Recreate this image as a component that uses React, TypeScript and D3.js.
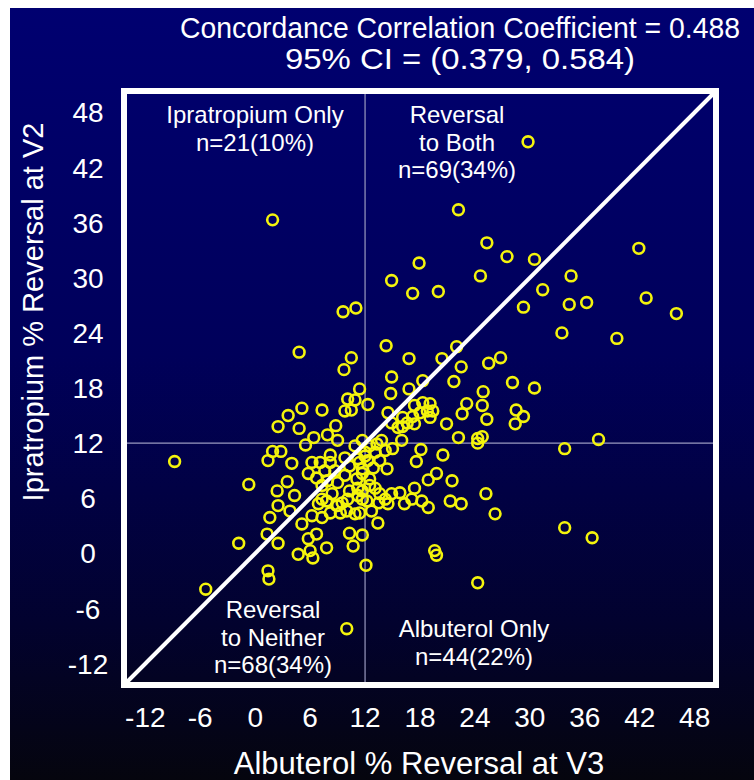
import React, { useEffect, useRef } from 'react';
import * as d3 from 'd3';

// Albuterol % reversal at V3 (x) and Ipratropium % reversal at V2 (y)
const albuterolV3 = [
  1.9, 9.6, 11.0, 4.8, 10.5, 9.7, 14.9, 17.9, 17.2, 14.3, 16.8, 14.9, 29.8, 22.2, 25.3, 27.5, 30.5, 24.6, 20.0, 41.9,
  34.5, 31.4, 29.3, 34.3, 36.2, 42.7, 46.0, 33.5, 39.5, 20.4, 22.0, 22.5, 25.5, 26.8, 28.1, 18.3, 21.7, 30.5, 24.9, 23.1,
  24.8, 22.6, 25.3, 28.5, 29.3, 28.4, 20.9, 22.2, 24.3, 24.8, 24.3, 33.8, 37.5, 18.1, 20.5, 17.6, 19.8, 18.9, 21.5, 17.4,
  15.8, 17.1, 18.2, 18.9, 21.3, 22.5, 25.2, 26.2, 33.8, 36.8, 19.6, 19.8, 24.3, -8.8, -0.7, -1.8, -5.4, 1.4, 1.5, 10.0,
  12.1, 5.1, 7.3, 3.6, 2.5, 4.8, 6.4, 7.9, 5.5, 1.9, 2.8, 1.4, 4.0, 6.2, 8.2, 8.2, 8.8, 11.4, 10.1, 10.9,
  12.3, 9.8, 10.5, 14.8, 16.8, 14.5, 17.4, 18.3, 19.1, 18.8, 19.4, 18.0, 19.1, 17.2, 16.1, 15.6, 16.6, 17.4, 9.0, 16.0,
  15.0, 9.8, 10.9, 11.7, 12.5, 13.1, 12.0, 11.2, 12.3, 13.6, 12.9, 11.7, 10.3, 14.2, 13.8, 9.8, 11.1, 9.0, 12.5, 14.4,
  2.4, 3.5, 4.3, 5.8, 6.7, 7.9, 2.5, 1.6, 3.8, 5.1, 6.2, 7.3, 6.9, 7.8, 1.3, 2.5, 5.8, 6.7, 7.8, 4.7,
  6.0, 6.3, 8.2, 8.9, 14.2, 14.5, 13.4, 12.7, 11.7, 9.5, 10.0, 10.9, 10.3, 11.7, 10.7, 11.7, 13.1, 10.3, 7.1, 8.7,
  7.6, 7.3, 11.4, 12.0, 13.3, 11.7, 12.5, 11.2, 13.6, 14.9, 13.5, 12.2, 11.2, 10.1, 9.0, 8.4, 7.3, 9.3, 11.4, 16.3,
  14.9, 16.1,
];
const ipratropiumV2 = [
  36.3, 26.3, 26.7, 21.9, 21.3, 20.0, 29.7, 31.6, 28.3, 22.6, 21.2, 19.2, 44.8, 37.4, 33.8, 32.3, 32.0, 30.2, 28.5, 33.2,
  30.2, 28.7, 26.8, 27.1, 27.3, 27.8, 26.1, 24.0, 23.4, 21.2, 22.5, 20.3, 20.7, 21.3, 18.6, 18.8, 18.7, 18.0, 17.6, 16.3,
  16.1, 15.2, 14.6, 15.6, 14.9, 14.1, 14.1, 12.6, 12.5, 12.7, 12.0, 11.4, 12.4, 11.3, 10.7, 10.0, 8.7, 8.0, 7.9, 7.1,
  6.6, 5.9, 5.7, 5.0, 5.7, 5.4, 6.5, 4.3, 2.8, 1.7, 0.3, -0.2, -3.2, 10.0, 7.5, 1.1, -3.9, -1.9, -2.8, -8.2,
  -1.3, 15.8, 15.6, 15.0, 13.8, 13.6, 12.6, 12.9, 11.8, 11.1, 11.1, 10.1, 9.8, 9.9, 10.7, 9.9, 13.9, 17.9, 16.8, 16.7,
  16.2, 15.5, 15.6, 17.4, 17.9, 15.3, 16.1, 16.4, 16.3, 15.5, 15.5, 15.3, 14.8, 14.9, 14.8, 13.7, 14.2, 14.1, 12.3, 12.3,
  11.4, 10.4, 11.7, 12.3, 11.7, 11.0, 11.0, 10.3, 10.1, 10.1, 9.3, 9.2, 9.5, 11.2, 12.3, 8.5, 8.1, 7.7, 8.1, 9.2,
  6.8, 7.8, 6.3, 8.7, 8.2, 7.9, 5.2, 3.9, 4.6, 3.2, 4.1, 3.9, 5.4, 5.7, 2.1, 1.1, 1.6, 2.1, 0.6, -0.1,
  0.3, -0.5, 4.4, 5.2, 5.9, 5.4, 3.3, 4.6, 5.9, 5.5, 4.6, 4.3, 2.2, 2.0, 0.8, 6.8, 7.1, 6.8, 9.9, 9.0,
  9.0, 7.4, 9.9, 10.6, 11.9, 8.7, 7.4, 7.1, 6.5, 6.5, 5.5, 5.7, 6.3, 5.9, 5.2, 6.5, 5.9, 4.4, 4.4, 5.4,
  14.2, 13.8,
];

const tickValues = [-12, -6, 0, 6, 12, 18, 24, 30, 36, 42, 48];
const axisDomain = [-14, 50];
const cutoff = 12;

const titleLines = ['Concordance Correlation Coefficient = 0.488', '95% CI = (0.379, 0.584)'];
const xTitle = 'Albuterol % Reversal at V3';
const yTitle = 'Ipratropium % Reversal at V2';
const quadIpratropium = ['Ipratropium Only', 'n=21(10%)'];
const quadBoth = ['Reversal', 'to Both', 'n=69(34%)'];
const quadNeither = ['Reversal', 'to Neither', 'n=68(34%)'];
const quadAlbuterol = ['Albuterol Only', 'n=44(22%)'];

const FONT = '"Liberation Sans", Arial, Helvetica, sans-serif';

function Chart() {
  const ref = useRef<SVGSVGElement | null>(null);

  useEffect(() => {
    const svg = d3.select(ref.current);
    svg.selectAll('*').remove();

    const width = 754;
    const height = 780;

    const defs = svg.append('defs');
    const grad = defs.append('linearGradient')
      .attr('id', 'bg')
      .attr('x1', 0).attr('y1', 0).attr('x2', 0).attr('y2', 1);
    grad.append('stop').attr('offset', '0%').attr('stop-color', '#000070');
    grad.append('stop').attr('offset', '45%').attr('stop-color', '#00005a');
    grad.append('stop').attr('offset', '80%').attr('stop-color', '#02022e');
    grad.append('stop').attr('offset', '100%').attr('stop-color', '#05050e');

    svg.append('rect').attr('width', width).attr('height', height).attr('fill', '#ffffff');
    svg.append('rect')
      .attr('x', 10).attr('y', 8)
      .attr('width', width - 10).attr('height', height - 8)
      .attr('fill', 'url(#bg)');

    const x = d3.scaleLinear().domain(axisDomain).range([127, 713]);
    const y = d3.scaleLinear().domain(axisDomain).range([682, 94]);

    // title, condensed to the widths seen in the picture
    const tw = [560, 350];
    titleLines.forEach((t, i) => {
      svg.append('text')
        .attr('x', 460)
        .attr('y', 38 + i * 31)
        .attr('text-anchor', 'middle')
        .attr('textLength', tw[i])
        .attr('lengthAdjust', 'spacingAndGlyphs')
        .attr('font-family', FONT)
        .attr('font-size', 29)
        .attr('fill', '#ffffff')
        .text(t);
    });

    // cutoff grid lines
    svg.append('line')
      .attr('x1', x(cutoff)).attr('x2', x(cutoff))
      .attr('y1', y(axisDomain[1])).attr('y2', y(axisDomain[0]))
      .attr('stroke', '#9a9ac0').attr('stroke-width', 1.2);
    svg.append('line')
      .attr('x1', x(axisDomain[0])).attr('x2', x(axisDomain[1]))
      .attr('y1', y(cutoff)).attr('y2', y(cutoff))
      .attr('stroke', '#9a9ac0').attr('stroke-width', 1.2);

    // points
    svg.append('g')
      .selectAll('circle')
      .data(albuterolV3.map((v, i) => [v, ipratropiumV2[i]]))
      .enter()
      .append('circle')
      .attr('cx', (d) => x(d[0]))
      .attr('cy', (d) => y(d[1]))
      .attr('r', 5.4)
      .attr('fill', 'none')
      .attr('stroke', '#f4f40c')
      .attr('stroke-width', 2.6);

    // line of identity
    svg.append('line')
      .attr('x1', x(axisDomain[0])).attr('y1', y(axisDomain[0]))
      .attr('x2', x(axisDomain[1])).attr('y2', y(axisDomain[1]))
      .attr('stroke', '#ffffff').attr('stroke-width', 4);

    // frame
    svg.append('rect')
      .attr('x', 124).attr('y', 91)
      .attr('width', 592).attr('height', 594)
      .attr('fill', 'none')
      .attr('stroke', '#ffffff')
      .attr('stroke-width', 6);

    // tick labels
    svg.append('g')
      .selectAll('text')
      .data(tickValues)
      .enter()
      .append('text')
      .attr('x', (d) => x(d))
      .attr('y', 727)
      .attr('text-anchor', 'middle')
      .attr('font-family', FONT)
      .attr('font-size', 28)
      .attr('fill', '#ffffff')
      .text((d) => d);

    svg.append('g')
      .selectAll('text')
      .data(tickValues)
      .enter()
      .append('text')
      .attr('x', 88)
      .attr('y', (d) => y(d) + 10)
      .attr('text-anchor', 'middle')
      .attr('font-family', FONT)
      .attr('font-size', 28)
      .attr('fill', '#ffffff')
      .text((d) => d);

    // axis titles
    svg.append('text')
      .attr('x', 419).attr('y', 774)
      .attr('text-anchor', 'middle')
      .attr('font-family', FONT)
      .attr('font-size', 31)
      .attr('fill', '#ffffff')
      .text(xTitle);

    svg.append('text')
      .attr('transform', 'translate(43,312) rotate(-90)')
      .attr('text-anchor', 'middle')
      .attr('font-family', FONT)
      .attr('font-size', 29)
      .attr('fill', '#ffffff')
      .text(yTitle);

    // quadrant labels
    const quad = (lines: string[], cx: number, y0: number) => {
      lines.forEach((t, i) => {
        svg.append('text')
          .attr('x', cx)
          .attr('y', y0 + i * 27.5)
          .attr('text-anchor', 'middle')
          .attr('font-family', FONT)
          .attr('font-size', 24)
          .attr('fill', '#ffffff')
          .text(t);
      });
    };
    quad(quadIpratropium, 255, 123);
    quad(quadBoth, 457, 123);
    quad(quadNeither, 273, 618);
    quad(quadAlbuterol, 474, 637);
  }, []);

  return (
    <svg
      ref={ref}
      width={754}
      height={780}
      style={{ position: 'absolute', left: 0, top: 0, display: 'block' }}
    />
  );
}

export default function App() {
  return <Chart />;
}
